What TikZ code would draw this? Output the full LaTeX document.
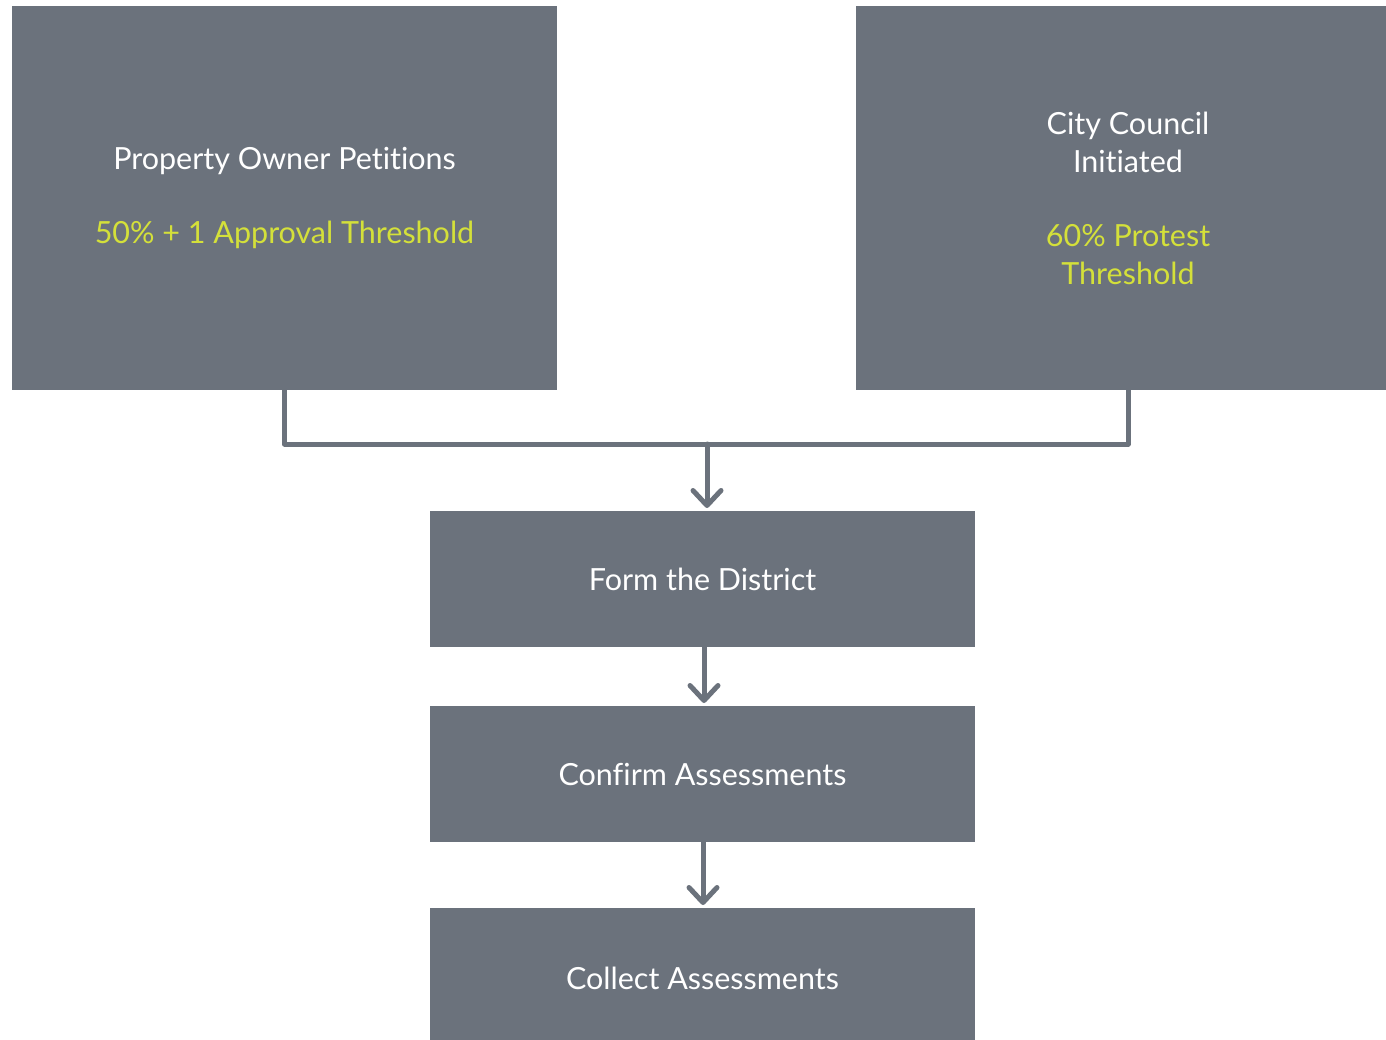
\documentclass[tikz,border=0pt]{standalone}
\usepackage{fontspec}
\setmainfont{Lato}[Ligatures={NoCommon}]
\usetikzlibrary{arrows.meta}
\definecolor{boxgray}{RGB}{107,114,124}
\definecolor{accent}{RGB}{212,224,58}
\begin{document}
\begin{tikzpicture}[x=1pt,y=-1pt,
  box/.style={fill=boxgray,draw=none,inner sep=0pt,text=white,align=center,font=\fontsize{30.5}{38}\selectfont},
  conn/.style={draw=boxgray,line width=5pt,line cap=round,line join=round},
  arr/.style={conn,-{Straight Barb[length=15pt,width=28pt,line width=5pt,round]}}]
\useasboundingbox (0,0) rectangle (1386,1040);
\begin{scope}
\clip (0,0) rectangle (1386,1040);
\node[box,minimum width=545pt,minimum height=384pt] (a) at (284.5,198)
  {Property Owner Petitions\\[36pt]\textcolor{accent}{50\% + 1 Approval Threshold}};
\node[box,minimum width=544pt,minimum height=384pt] (b) at (1128,198)
  {City Council\\Initiated\\[36pt]\textcolor{accent}{60\% Protest}\\\textcolor{accent}{Threshold}};
\node[box,minimum width=545pt,minimum height=136pt] (c) at (702.5,579) {Form the District};
\node[box,minimum width=545pt,minimum height=136pt] (d) at (702.5,774) {Confirm Assessments};
\node[box,minimum width=545pt,minimum height=140pt] (e) at (702.5,978) {Collect Assessments};
\end{scope}
\coordinate (j) at (707,444);
\draw[conn] (a.south) |- (j) -| (b.south);
\draw[arr] (j) -- (707,508);
\draw[arr] (704,647) -- (704,703);
\draw[arr] (703,842) -- (703,905);
\end{tikzpicture}
\end{document}
